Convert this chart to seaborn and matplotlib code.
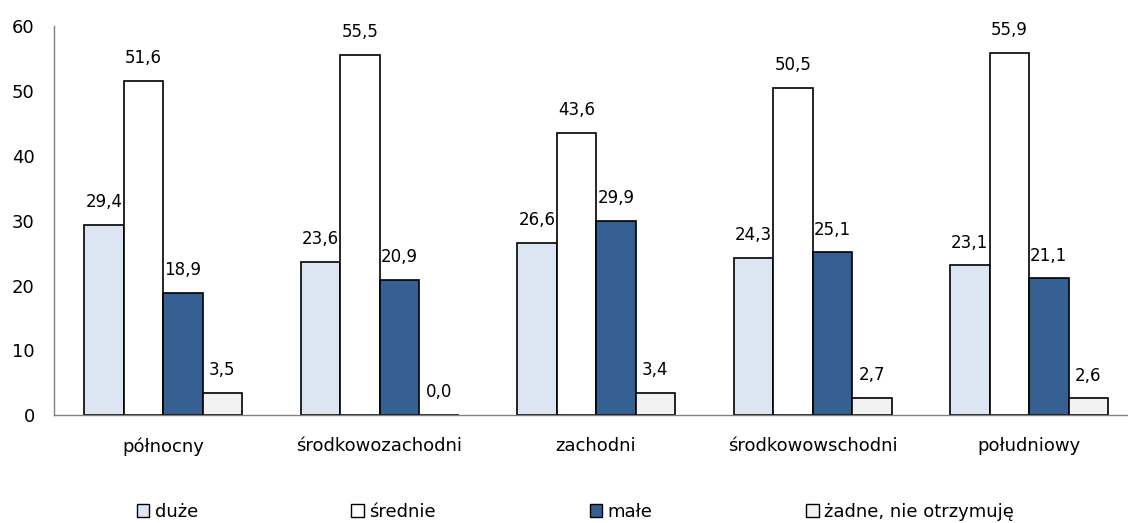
import matplotlib
matplotlib.use("Agg")
import matplotlib.pyplot as plt
import seaborn as sns
import pandas as pd
from matplotlib.patches import Patch

regions = ["północny", "środkowozachodni", "zachodni", "środkowowschodni", "południowy"]
series = ["duże", "średnie", "małe", "żadne, nie otrzymuję"]
duze = [29.4, 23.6, 26.6, 24.3, 23.1]
srednie = [51.6, 55.5, 43.6, 50.5, 55.9]
male = [18.9, 20.9, 29.9, 25.1, 21.1]
zadne = [3.5, 0.0, 3.4, 2.7, 2.6]
colors = ["#DCE6F2", "#FFFFFF", "#366092", "#F2F2F2"]

rows = []
for s, vals in zip(series, [duze, srednie, male, zadne]):
    for r, v in zip(regions, vals):
        rows.append({"region": r, "seria": s, "wartosc": v})
df = pd.DataFrame(rows)

sns.set_style("white")
plt.rcParams["font.family"] = ["DejaVu Sans"]
plt.rcParams["text.color"] = "black"
plt.rcParams["xtick.color"] = "black"
plt.rcParams["ytick.color"] = "black"

fig = plt.figure(figsize=(11.28, 5.23), dpi=100)
ax = fig.add_axes([0.048, 0.206, 0.952, 0.744])

sns.barplot(data=df, x="region", y="wartosc", hue="seria", order=regions,
            hue_order=series, palette=colors, saturation=1, edgecolor="black",
            linewidth=1.2, width=0.73, gap=0, ax=ax, legend=False)

for cont, vals in zip(ax.containers, [duze, srednie, male, zadne]):
    ax.bar_label(cont, labels=[f"{v:.1f}".replace(".", ",") for v in vals],
                 padding=10, fontsize=12, color="black")

ax.set_ylim(0, 60)
ax.set_yticks(range(0, 61, 10))
ax.set_xlabel("")
ax.set_ylabel("")
ax.tick_params(axis="both", length=0, labelsize=13, labelcolor="black")
ax.tick_params(axis="x", pad=16)
ax.tick_params(axis="y", pad=14)
for sp in ["top", "right"]:
    ax.spines[sp].set_visible(False)
for sp in ["left", "bottom"]:
    ax.spines[sp].set_color("#808080")
    ax.spines[sp].set_linewidth(1)
ax.set_xlim(-0.503, 4.457)

handles = [Patch(facecolor=c, edgecolor="black", linewidth=1) for c in colors]
fig.legend(handles, series, loc="center", bbox_to_anchor=(0.51, 0.021),
           ncol=4, frameon=False, fontsize=13, handlelength=0.7,
           handleheight=0.7, handletextpad=0.3, columnspacing=8.5)

fig.savefig("out.png", dpi=100)
